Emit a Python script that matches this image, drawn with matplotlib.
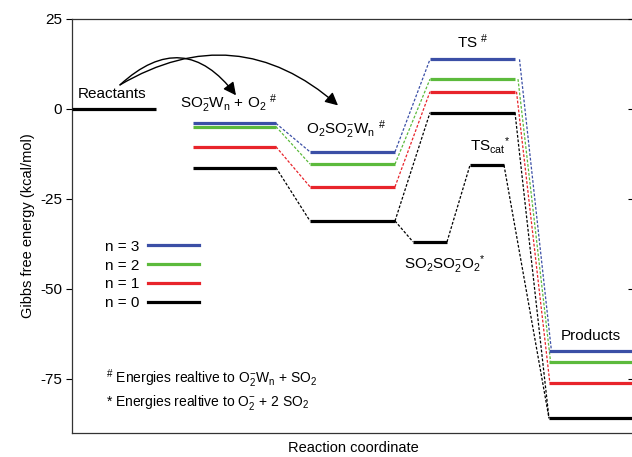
import matplotlib
matplotlib.use('Agg')
import matplotlib.pyplot as plt
from matplotlib.lines import Line2D
from matplotlib.patches import FancyArrowPatch

plt.rcParams['font.family'] = ['Liberation Sans', 'DejaVu Sans']
plt.rcParams['mathtext.fontset'] = 'custom'
plt.rcParams['mathtext.rm'] = 'Liberation Sans'
plt.rcParams['mathtext.it'] = 'Liberation Sans'
plt.rcParams['mathtext.bf'] = 'Liberation Sans:bold'
plt.rcParams['axes.unicode_minus'] = False

# stage positions along the reaction coordinate (start, end of each level)
reactants_x = (72, 156)
complex_x = (193, 276)
o2so2_x = (310, 395)
ts_x = (430, 515)
products_x = (549, 645)
cat_int_x = (413, 447)
ts_cat_x = (470, 504)

# Gibbs free energies (kcal/mol) per hydration number n
series_labels = ['n = 3', 'n = 2', 'n = 1', 'n = 0']
series_colors = ['#3b4fa6', '#5cba3c', '#e8242b', '#000000']
complex_G = [-4.0, -4.9, -10.5, -16.3]
o2so2_G = [-11.9, -15.3, -21.6, -31.1]
ts_G = [13.8, 8.3, 4.8, -1.0]
products_G = [-67.1, -70.3, -76.0, -85.9]
reactants_G = 0.0
cat_int_G = -36.9
ts_cat_G = -15.6

yticks = [25, 0, -25, -50, -75]

fig = plt.figure(figsize=(6.32, 4.57), dpi=100)
ax = fig.add_axes([72/632, 1-433/457, (634-72)/632, (433-19)/457])

LW = 2.3
dash = dict(lw=0.9, dashes=(2.2, 1.4))

def level(xr, g, c):
    ax.plot(xr, [g, g], color=c, lw=LW, solid_capstyle='butt', zorder=3)

def link(x1, g1, x2, g2, c):
    ax.plot([x1, x2], [g1, g2], color=c, zorder=2, **dash)

ax.plot(reactants_x, [reactants_G]*2, color='black', lw=LW, solid_capstyle='butt', zorder=3)

for i in range(len(series_labels)):
    c = series_colors[i]
    level(complex_x, complex_G[i], c)
    level(o2so2_x, o2so2_G[i], c)
    level(ts_x, ts_G[i], c)
    level(products_x, products_G[i], c)
    link(complex_x[1], complex_G[i], o2so2_x[0], o2so2_G[i], c)
    link(o2so2_x[1], o2so2_G[i], ts_x[0], ts_G[i], c)
    link(ts_x[1] + (3 - i) * 1.5, ts_G[i], products_x[0] + (3 - i) * 0.8, products_G[i], c)

# catalytic path
level(cat_int_x, cat_int_G, 'black')
level(ts_cat_x, ts_cat_G, 'black')
link(o2so2_x[1], o2so2_G[3], cat_int_x[0], cat_int_G, 'black')
link(cat_int_x[1], cat_int_G, ts_cat_x[0], ts_cat_G, 'black')
link(ts_cat_x[1], ts_cat_G, products_x[0], products_G[3], 'black')

ax.set_xlim(72, 634)
ax.set_ylim(-90, 25)
ax.set_yticks(yticks)
ax.set_xticks([])
ax.tick_params(axis='y', direction='out', length=4, width=0.8, labelsize=11, pad=3)
for s in ax.spines.values():
    s.set_linewidth(0.9)
    s.set_color('#333333')
ax.set_ylabel('Gibbs free energy (kcal/mol)', fontsize=10.5, labelpad=4)
ax.set_xlabel('Reaction coordinate', fontsize=10.5, labelpad=6)

# right side ticks point inward
ax2 = ax.twinx()
ax2.set_ylim(ax.get_ylim())
ax2.set_yticks(yticks)
ax2.tick_params(axis='y', direction='in', length=4, width=0.8, labelright=False)
for s in ax2.spines.values():
    s.set_visible(False)

# labels
fs = 11
ax.text(78, 2.2, 'Reactants', fontsize=fs, va='bottom', ha='left')
ax.text(180, -1.8, r'SO$_2^{-}$W$_n$ + O$_2$ $^{\#}$', fontsize=fs, va='bottom', ha='left')
ax.text(306, -9.0, r'O$_2$SO$_2^{-}$W$_n$ $^{\#}$', fontsize=fs, va='bottom', ha='left')
ax.text(457, 16.0, r'TS $^{\#}$', fontsize=fs, va='bottom', ha='left')
ax.text(470, -13.0, r'TS$_{cat}$$^{*}$', fontsize=fs, va='bottom', ha='left')
ax.text(404, -46.5, r'SO$_2$SO$_2^{-}$O$_2$$^{*}$', fontsize=fs, va='bottom', ha='left')
ax.text(561, -65.0, 'Products', fontsize=fs, va='bottom', ha='left')
ax.text(106, -78.0, r'$^{\#}$ Energies realtive to O$_2^{-}$W$_n$ + SO$_2$', fontsize=10, va='bottom', ha='left')
ax.text(106, -84.3, r'* Energies realtive to O$_2^{-}$ + 2 SO$_2$', fontsize=10, va='bottom', ha='left')

# curved arrows
for end, rad in [((236, 3.8), -0.55), ((338, 1.0), -0.36)]:
    arr = FancyArrowPatch((120, 6.7), end, connectionstyle=f'arc3,rad={rad}',
                          arrowstyle='-|>', mutation_scale=19, lw=1.0, color='black',
                          shrinkA=0, shrinkB=0)
    ax.add_patch(arr)

handles = [Line2D([0], [0], color=c, lw=LW) for c in series_colors]
ax.legend(handles, series_labels, loc='upper left', bbox_to_anchor=(0.058, 0.467),
          frameon=False, markerfirst=False, fontsize=fs, handlelength=3.3,
          handletextpad=0.6, labelspacing=0.32, borderpad=0, borderaxespad=0)

fig.savefig('out.png', dpi=100)
